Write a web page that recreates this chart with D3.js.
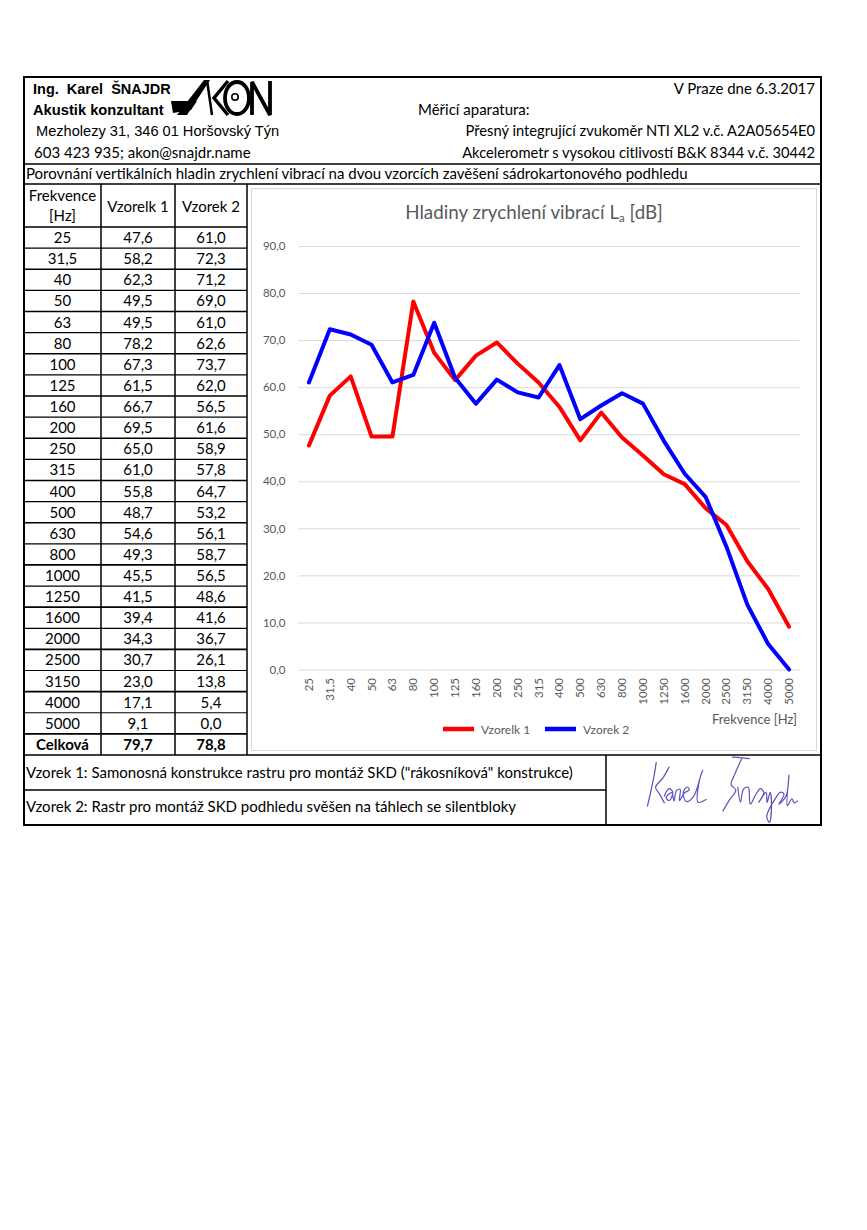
<!DOCTYPE html>
<html>
<head>
<meta charset="utf-8">
<script src="https://cdn.jsdelivr.net/npm/d3@7"></script>
<style>
  body { margin: 0; background: #fff; }
  svg { display: block; }
</style>
</head>
<body>
<div id="page"></div>
<script>
// Data
const freqs = ["25", "31,5", "40", "50", "63", "80", "100", "125", "160", "200", "250", "315",
  "400", "500", "630", "800", "1000", "1250", "1600", "2000", "2500", "3150", "4000", "5000"];
const vzorek1 = [47.6, 58.2, 62.3, 49.5, 49.5, 78.2, 67.3, 61.5, 66.7, 69.5, 65.0, 61.0,
  55.8, 48.7, 54.6, 49.3, 45.5, 41.5, 39.4, 34.3, 30.7, 23.0, 17.1, 9.1];
const vzorek2 = [61.0, 72.3, 71.2, 69.0, 61.0, 62.6, 73.7, 62.0, 56.5, 61.6, 58.9, 57.8,
  64.7, 53.2, 56.1, 58.7, 56.5, 48.6, 41.6, 36.7, 26.1, 13.8, 5.4, 0.0];
const totals = [79.7, 78.8];
const seriesNames = ["Vzorelk 1", "Vzorek 2"];
const yTicks = [0, 10, 20, 30, 40, 50, 60, 70, 80, 90];

const CAL = "Lato, 'Open Sans', sans-serif";
const ARIAL = "'Liberation Sans', Arial, sans-serif";
const GREY = "#595959";
const FS = 15; // body text size

const cz = d3.formatLocale({ decimal: ",", thousands: " ", grouping: [3], currency: ["", " Kč"] });
const fmt1 = cz.format(".1f");

const svg = d3.select("#page").append("svg")
  .attr("width", 867)
  .attr("height", 1230);

// ---------- frame ----------
const box = { l: 24, r: 821, t: 77, b: 825 };
const frame = svg.append("g").attr("stroke", "#000").attr("fill", "none");

frame.append("rect")
  .attr("x", box.l).attr("y", box.t)
  .attr("width", box.r - box.l).attr("height", box.b - box.t)
  .attr("stroke-width", 2);

function hline(y, x0, x1, w) {
  frame.append("line").attr("x1", x0).attr("x2", x1).attr("y1", y).attr("y2", y)
    .attr("stroke-width", w || 1.3);
}
function vline(x, y0, y1, w) {
  frame.append("line").attr("x1", x).attr("x2", x).attr("y1", y0).attr("y2", y1)
    .attr("stroke-width", w || 1.3);
}

hline(164, box.l, box.r, 1.5);
hline(184, box.l, box.r, 1.5);
hline(755, box.l, box.r, 1.5);
hline(790, box.l, 606, 1.5);
vline(606, 755, box.b, 1.5);

// ---------- header ----------
const head = svg.append("g");

function txt(g, x, y, s, opt) {
  opt = opt || {};
  return g.append("text")
    .attr("x", x).attr("y", y)
    .attr("font-family", opt.family || CAL)
    .attr("font-size", opt.size || FS)
    .attr("font-weight", opt.bold ? "bold" : null)
    .attr("text-anchor", opt.anchor || "start")
    .attr("fill", opt.fill || "#000")
    .text(s);
}

txt(head, 33, 94, "Ing.  Karel  ŠNAJDR", { family: ARIAL, bold: true, size: 14.5 }).attr("xml:space", "preserve");
txt(head, 33, 115, "Akustik konzultant", { family: ARIAL, bold: true, size: 14.7 });
txt(head, 36, 136, "Mezholezy 31, 346 01 Horšovský Týn", { family: ARIAL, size: 14.6 });
txt(head, 34, 158, "603 423 935; akon@snajdr.name");

txt(head, 815, 94, "V Praze dne 6.3.2017", { anchor: "end" });
txt(head, 418, 115, "Měřicí aparatura:");
txt(head, 815, 136, "Přesný integrující zvukoměr NTI XL2 v.č. A2A05654E0", { anchor: "end", size: 14.7 });
txt(head, 815, 158, "Akcelerometr s vysokou citlivostí B&K 8344 v.č. 30442", { anchor: "end", size: 14.7 });

txt(head, 26, 179, "Porovnání vertikálních hladin zrychlení vibrací na dvou vzorcích zavěšení sádrokartonového podhledu");

// AKON logo
const logo = svg.append("g").attr("fill", "#000").attr("stroke", "#000");
logo.append("path").attr("stroke", "none")
  .attr("d", "M177,115 L204,80 L210,80 L187,115 Z");
logo.append("path").attr("stroke", "none")
  .attr("d", "M171,101 L197,101 L191,110 L173,113 Z");
logo.append("path").attr("fill", "none").attr("stroke-width", 2.5)
  .attr("d", "M207,80 L212,115");
logo.append("path").attr("fill", "none").attr("stroke-width", 3.5).attr("stroke-linejoin", "miter")
  .attr("d", "M228,81 L214,98 L228,115");
logo.append("ellipse").attr("fill", "none").attr("stroke-width", 3.8)
  .attr("cx", 237).attr("cy", 98).attr("rx", 12).attr("ry", 16);
logo.append("circle").attr("fill", "none").attr("stroke-width", 1.6)
  .attr("cx", 235).attr("cy", 97).attr("r", 3.2);
logo.append("path").attr("fill", "none").attr("stroke-width", 3.8).attr("stroke-linejoin", "miter")
  .attr("d", "M252,115 L252,82 L270,115 L270,81");

// ---------- table ----------
const colX = [24, 101, 175, 247];
const rowTop = 227, rowH = (755 - 227) / (freqs.length + 1);
const tbl = svg.append("g");

colX.slice(1).forEach(x => vline(x, 184, 755, 1.5));
d3.range(freqs.length + 1).forEach(i => hline(rowTop + i * rowH, colX[0], colX[3], i % 2 ? 1.2 : 1.6));

const cx = d3.range(3).map(i => (colX[i] + colX[i + 1]) / 2);
txt(tbl, cx[0], 201, "Frekvence", { anchor: "middle" });
txt(tbl, cx[0], 221, "[Hz]", { anchor: "middle" });
txt(tbl, cx[1], 212, seriesNames[0], { anchor: "middle" });
txt(tbl, cx[2], 212, seriesNames[1], { anchor: "middle" });

const rows = freqs.map((f, i) => [f, fmt1(vzorek1[i]), fmt1(vzorek2[i])]);
rows.forEach((r, i) => {
  const yb = rowTop + (i + 0.5) * rowH + 5.5;
  r.forEach((s, j) => txt(tbl, cx[j], yb, s, { anchor: "middle" }));
});
const yt = rowTop + (freqs.length + 0.5) * rowH + 5.5;
txt(tbl, cx[0], yt, "Celková", { anchor: "middle", bold: true });
txt(tbl, cx[1], yt, fmt1(totals[0]), { anchor: "middle", bold: true });
txt(tbl, cx[2], yt, fmt1(totals[1]), { anchor: "middle", bold: true });

// ---------- footer ----------
const foot = svg.append("g");
txt(foot, 26, 778, "Vzorek 1: Samonosná konstrukce rastru pro montáž SKD (\"rákosníková\" konstrukce)");
txt(foot, 26, 812, "Vzorek 2: Rastr pro montáž SKD podhledu svěšen na táhlech se silentbloky");

// signature (hand drawn strokes, in a 3x local box)
const sig = svg.append("g")
  .attr("transform", "translate(605,755) scale(0.337)")
  .attr("fill", "none")
  .attr("stroke", "#5b55b8")
  .attr("stroke-width", 3.6)
  .attr("stroke-linecap", "round")
  .attr("stroke-linejoin", "round");
const strokes = [
  [[152, 22], [146, 60], [136, 108], [126, 152]],
  [[190, 36], [172, 68], [150, 96], [162, 116], [176, 142]],
  [[176, 122], [190, 100], [201, 110], [191, 135], [181, 126], [198, 112], [205, 136],
   [212, 106], [223, 102], [221, 135], [236, 112], [250, 104], [244, 95], [232, 111],
   [241, 138], [262, 124], [284, 62], [290, 45], [281, 72], [276, 140], [300, 132]],
  [[378, 6], [400, 8], [428, 11]],
  [[405, 12], [386, 55], [374, 88], [388, 104], [369, 134], [350, 166]],
  [[394, 96], [402, 140], [411, 101], [425, 96], [431, 146], [446, 120], [461, 100],
   [471, 111], [456, 141], [478, 111], [481, 141], [490, 111], [494, 152], [488, 200],
   [480, 182], [505, 130], [521, 110], [531, 116], [516, 146], [538, 120], [546, 60],
   [541, 150], [555, 130], [561, 142], [571, 136]]
];
const sigLine = d3.line().curve(d3.curveCatmullRom.alpha(0.5));
strokes.forEach(s => sig.append("path").attr("d", sigLine(s)));

// ---------- chart ----------
const chart = svg.append("g");
chart.append("rect")
  .attr("x", 251.5).attr("y", 188.5).attr("width", 565).attr("height", 562)
  .attr("fill", "#fff").attr("stroke", "#d9d9d9").attr("stroke-width", 1);

const plot = { l: 298.5, r: 799.5, t: 246, b: 669.5 };

const x = d3.scaleBand().domain(freqs).range([plot.l, plot.r]);
const y = d3.scaleLinear().domain([0, 90]).range([plot.b, plot.t]);
const xc = f => x(f) + x.bandwidth() / 2;

// title
const title = chart.append("text")
  .attr("x", (plot.l + plot.r) / 2 - 15).attr("y", 219)
  .attr("text-anchor", "middle")
  .attr("font-family", CAL).attr("font-size", 18.8).attr("fill", GREY);
title.append("tspan").text("Hladiny zrychlení vibrací L");
title.append("tspan").attr("font-size", 11.5).attr("dy", 3).text("a");
title.append("tspan").attr("dy", -3).text(" [dB]");

// y axis + gridlines
const yAxis = chart.append("g")
  .attr("transform", `translate(${plot.l},0)`)
  .call(d3.axisLeft(y).tickValues(yTicks).tickFormat(fmt1)
    .tickSize(-(plot.r - plot.l)).tickPadding(13));
yAxis.select(".domain").remove();
yAxis.selectAll(".tick line").attr("stroke", "#d9d9d9");
yAxis.selectAll(".tick text")
  .attr("fill", GREY).attr("font-family", CAL).attr("font-size", 11.5);

// x axis, labels turned upright
const xAxis = chart.append("g")
  .attr("transform", `translate(0,${plot.b})`)
  .call(d3.axisBottom(x).tickSize(0));
xAxis.select(".domain").remove();
xAxis.selectAll(".tick text")
  .attr("fill", GREY).attr("font-family", CAL).attr("font-size", 11.5)
  .attr("y", 0).attr("x", -8.5).attr("dy", "0.35em")
  .attr("transform", "rotate(-90)")
  .style("text-anchor", "end");

chart.append("text")
  .attr("x", 797).attr("y", 724)
  .attr("text-anchor", "end")
  .attr("font-family", CAL).attr("font-size", 13).attr("fill", GREY)
  .text("Frekvence [Hz]");

// series
const series = [
  { name: seriesNames[0], values: vzorek1, color: "#ff0000" },
  { name: seriesNames[1], values: vzorek2, color: "#0000ff" }
];
const line = d3.line()
  .x((d, i) => xc(freqs[i]))
  .y(d => y(d));

chart.selectAll("path.series")
  .data(series)
  .join("path")
  .attr("class", "series")
  .attr("d", d => line(d.values))
  .attr("fill", "none")
  .attr("stroke", d => d.color)
  .attr("stroke-width", 4)
  .attr("stroke-linejoin", "round")
  .attr("stroke-linecap", "round");

// legend
const legX = [443, 545];
const leg = chart.selectAll("g.leg")
  .data(series)
  .join("g")
  .attr("class", "leg")
  .attr("transform", (d, i) => `translate(${legX[i]},729)`);
leg.append("line")
  .attr("x1", 0).attr("x2", 31).attr("y1", 0).attr("y2", 0)
  .attr("stroke", d => d.color).attr("stroke-width", 4.5);
leg.append("text")
  .attr("x", 38).attr("y", 4.5)
  .attr("font-family", CAL).attr("font-size", 12).attr("fill", GREY)
  .text(d => d.name);
</script>
</body>
</html>
